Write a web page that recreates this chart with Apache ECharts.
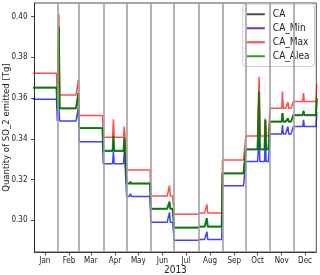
<!DOCTYPE html>
<html><head><meta charset="utf-8">
<script src="https://cdn.jsdelivr.net/npm/echarts@6/dist/echarts.min.js"></script>
<style>html,body{margin:0;padding:0;background:#fff}#c{width:320px;height:275px}</style>
</head><body><div id="c"></div>
<script>
// ---- data ----
const monthNames = ['Jan','Feb','Mar','Apr','May','Jun','Jul','Aug','Sep','Oct','Nov','Dec'];
const monthStart = [0,31,59,90,120,151,181,212,243,273,304,334];
const monthBoundaries = [31,59,90,120,151,181,212,243,273,304,334];
const monthLabelDay = [15,46,74,105,135,166,196,227,258,288,319,349];
const yTicks = [0.30,0.32,0.34,0.36,0.38,0.40];
const yearLabel = '2013';

const caLevel  = [0.3651,0.3550,0.3452,0.3340,0.3180,0.3056,0.2964,0.2969,0.3231,0.3349,0.3484,0.3517];
const minLevel = [0.3594,0.3488,0.3386,0.3278,0.3117,0.2990,0.2902,0.2906,0.3170,0.3288,0.3424,0.3460];
const maxLevel = [0.3722,0.3615,0.3514,0.3407,0.3247,0.3119,0.3030,0.3036,0.3296,0.3414,0.3550,0.3583];
const aleaLevel = [0.3652,0.3549,0.3453,0.3341,0.3181,0.3057,0.2963,0.2968,0.3230,0.3348,0.3485,0.3516];

// spikes: [dayOfYear, value]
const caSpikes  = [[33,0.3950],[58,0.3625],[103,0.3415],[117,0.3405],[125,0.3190],[175,0.3091],[223,0.3010],[290,0.3632],[298,0.3493],[320,0.3526],[327,0.3500],[347,0.3537],[364,0.3600]];
const minSpikes = [[33,0.3560],[58,0.3550],[103,0.3337],[117,0.3337],[125,0.3130],[175,0.3039],[223,0.2944],[290,0.3403],[298,0.3411],[320,0.3468],[327,0.3460],[347,0.3493],[364,0.3530]];
const maxSpikes = [[33,0.4013],[58,0.3690],[103,0.3496],[117,0.3460],[125,0.3255],[175,0.3170],[223,0.3078],[290,0.3705],[298,0.3500],[320,0.3632],[327,0.3580],[347,0.3624],[364,0.3670]];
const aleaSpikes = [[33,0.3950],[58,0.3625],[103,0.3415],[117,0.3405],[125,0.3190],[175,0.3091],[223,0.3010],[290,0.3632],[298,0.3493],[320,0.3526],[327,0.3500],[347,0.3537],[364,0.3600]];

function build(levels, spikes){
  const sp = new Map(spikes);
  const out = [];
  for (let d = 0; d < 365; d++){
    let m = 11; while (monthStart[m] > d) m--;
    out.push([d, sp.has(d) ? sp.get(d) : levels[m]]);
  }
  return out;
}

const FONT = '"Liberation Sans Narrow","DejaVu Sans Condensed","Liberation Sans",sans-serif';
const chart = echarts.init(document.getElementById('c'), null, {renderer:'canvas'});
const lineSeries = (name, color, width, data) => ({
  name, type:'line', data, showSymbol:false, symbol:'none', color,
  lineStyle:{color, width}, emphasis:{disabled:true}, animation:false, clip:true
});
chart.setOption({
  animation:false,
  textStyle:{fontFamily:FONT},
  grid:{left:34.5, right:3.7, top:3, bottom:23, containLabel:false, outerBoundsMode:'none',
    show:true, borderColor:'#222', borderWidth:0.8, backgroundColor:'transparent'},
  xAxis:{
    type:'value', min:1.73, max:363.4,
    axisLine:{show:true, lineStyle:{color:'#222', width:0.8}},
    axisTick:{show:true, customValues:monthLabelDay, length:3.5, lineStyle:{color:'#222', width:0.8}},
    axisLabel:{customValues:monthLabelDay, formatter:(v)=>monthNames[monthLabelDay.indexOf(v)], fontSize:8, color:'#222', margin:5, fontFamily:FONT},
    splitLine:{show:false},
    name:yearLabel, nameLocation:'middle', nameGap:13, nameMoveOverlap:false,
    nameTextStyle:{fontSize:10, color:'#222', fontFamily:FONT}
  },
  yAxis:{
    type:'value', min:0.2844, max:0.4067,
    axisLine:{show:true, lineStyle:{color:'#222', width:0.8}},
    axisTick:{show:true, customValues:yTicks, length:3.5, lineStyle:{color:'#222', width:0.8}},
    axisLabel:{customValues:yTicks, formatter:(v)=>v.toFixed(2), fontSize:8, color:'#222', margin:7, fontFamily:FONT},
    splitLine:{show:false},
    name:'Quantity of SO_2 emitted [Tg]', nameLocation:'middle', nameGap:23, nameMoveOverlap:false,
    nameTextStyle:{fontSize:9.5, color:'#222', fontFamily:FONT}
  },
  legend:{
    orient:'vertical', right:5.5, top:4, icon:'rect', itemWidth:18, itemHeight:2, itemGap:1.5,
    data:['CA','CA_Min','CA_Max','CA_Alea'],
    textStyle:{fontSize:10, color:'#222', fontFamily:FONT, padding:[0,0,0,3], lineHeight:12.5},
    backgroundColor:'rgba(255,255,255,0.85)', borderColor:'#ccc', borderWidth:1, borderRadius:3,
    padding:[4,5,4,4]
  },
  series:[
    {type:'line', data:[], silent:true, markLine:{silent:true, symbol:'none', label:{show:false},
      lineStyle:{color:'#a0a0a0', width:1.6, type:'solid'}, emphasis:{disabled:true},
      data:monthBoundaries.map(d=>({xAxis:d}))}},
    lineSeries('CA','rgba(0,0,0,0.7)',1.5,build(caLevel,caSpikes)),
    lineSeries('CA_Min','rgba(0,0,255,0.75)',1.5,build(minLevel,minSpikes)),
    lineSeries('CA_Max','rgba(255,0,0,0.7)',1.5,build(maxLevel,maxSpikes)),
    lineSeries('CA_Alea','rgba(0,128,0,0.8)',2,build(aleaLevel,aleaSpikes))
  ]
});
</script></body></html>
